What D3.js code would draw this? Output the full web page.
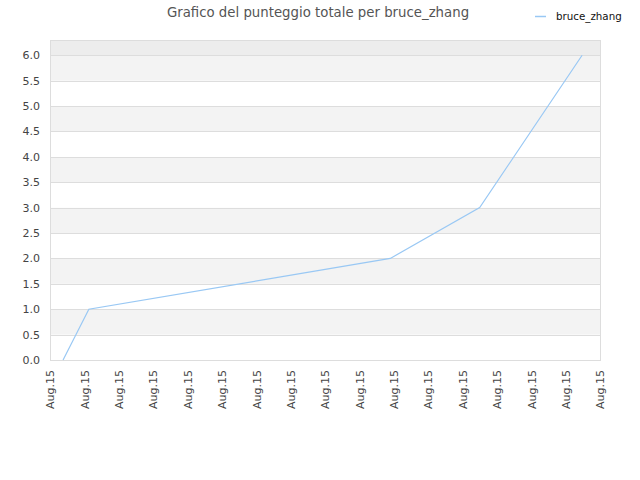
<!DOCTYPE html>
<html>
<head>
<meta charset="utf-8">
<script src="https://cdn.jsdelivr.net/npm/d3@7"></script>
<style>
  body { margin: 0; background: #fff; }
  text { font-family: "DejaVu Sans", sans-serif; }
</style>
</head>
<body>
<svg id="chart"></svg>
<script>
'use strict'

// x positions are in tick steps (17 ticks, all "Aug.15")
var tickLabels = d3.range(17).map(function() { return "Aug.15" });
var seriesName = "bruce_zhang";
var pointX = [0.38, 1.13, 9.9, 12.5, 15.48];
var pointY = [0, 1, 2, 3, 6];
var yTicks = [0, 0.5, 1, 1.5, 2, 2.5, 3, 3.5, 4, 4.5, 5, 5.5, 6];

var WIDTH = 640,
	HEIGHT = 480;

var margin = { top: 40, right: 40, bottom: 120, left: 50 };
var plotW = WIDTH - margin.left - margin.right,
	plotH = HEIGHT - margin.top - margin.bottom;

var lineColor = "#99c8f4",
	gridColor = "#dddddd";

var svg = d3.select("#chart")
	.attr("width", WIDTH)
	.attr("height", HEIGHT);

var x = d3.scaleLinear().domain([0, 16]).range([0, plotW]);
var y = d3.scaleLinear().domain([0, 6.3]).range([plotH, 0]);

var g = svg.append("g")
	.attr("transform", "translate(" + margin.left + "," + margin.top + ")");

// background bands
var bands = [{ lo: 6, hi: 6.3, fill: "#ededed" }];
yTicks.slice(0, -1).forEach(function(t, i) {
	bands.push({ lo: t, hi: yTicks[i + 1], fill: i % 2 ? "#f3f3f3" : "#ffffff" });
});

g.selectAll("rect.band")
	.data(bands)
	.enter().append("rect")
	.attr("class", "band")
	.attr("x", 0)
	.attr("width", plotW)
	.attr("y", function(d) { return y(d.hi) })
	.attr("height", function(d) { return y(d.lo) - y(d.hi) })
	.style("fill", function(d) { return d.fill });

// gridlines
g.selectAll("line.grid")
	.data(yTicks)
	.enter().append("line")
	.attr("class", "grid")
	.attr("x1", 0)
	.attr("x2", plotW)
	.attr("y1", function(d) { return Math.round(y(d)) + 0.5 })
	.attr("y2", function(d) { return Math.round(y(d)) + 0.5 })
	.style("stroke", gridColor);

// frame
g.append("rect")
	.attr("x", 0.5)
	.attr("y", 0.5)
	.attr("width", plotW)
	.attr("height", plotH)
	.style("fill", "none")
	.style("stroke", gridColor);

// y axis
var yAxis = g.append("g")
	.call(d3.axisLeft(y).tickValues(yTicks).tickFormat(d3.format(".1f")).tickSize(0).tickPadding(10));
yAxis.select(".domain").remove();
yAxis.selectAll("text")
	.style("font-size", "11px")
	.style("fill", "#444")
	.style("font-family", "DejaVu Sans, sans-serif");

// x axis
var xAxis = g.append("g")
	.attr("transform", "translate(0," + plotH + ")")
	.call(d3.axisBottom(x).tickValues(d3.range(17)).tickFormat(function(d) { return tickLabels[d] }).tickSize(0));
xAxis.select(".domain").remove();
xAxis.selectAll("text")
	.attr("transform", "rotate(-90)")
	.attr("x", -10)
	.attr("y", 0)
	.attr("dy", "0.35em")
	.style("text-anchor", "end")
	.style("font-size", "11px")
	.style("fill", "#444")
	.style("font-family", "DejaVu Sans, sans-serif");

// series line
var line = d3.line()
	.x(function(d) { return x(d[0]) })
	.y(function(d) { return y(d[1]) });

g.append("path")
	.datum(d3.zip(pointX, pointY))
	.attr("d", line)
	.style("fill", "none")
	.style("stroke", lineColor)
	.style("stroke-width", 1.2);

// title
svg.append("text")
	.attr("x", 318)
	.attr("y", 17)
	.attr("text-anchor", "middle")
	.style("font-size", "13.3px")
	.style("fill", "#555")
	.text("Grafico del punteggio totale per " + seriesName);

// legend
svg.append("line")
	.attr("x1", 535)
	.attr("x2", 546)
	.attr("y1", 16.5)
	.attr("y2", 16.5)
	.style("stroke", lineColor)
	.style("stroke-width", 1.5);

svg.append("text")
	.attr("x", 556)
	.attr("y", 19.5)
	.style("font-size", "10.3px")
	.style("fill", "#111")
	.text(seriesName);
</script>
</body>
</html>
